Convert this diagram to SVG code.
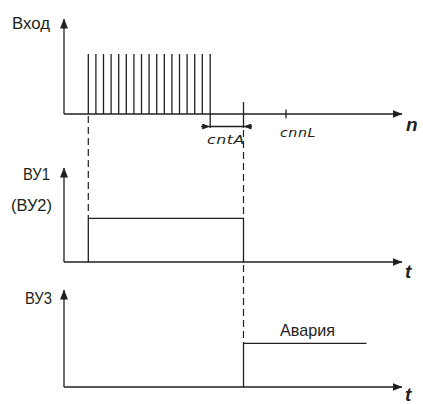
<svg xmlns="http://www.w3.org/2000/svg" width="423" height="404" viewBox="0 0 423 404">
<style>
.ln{stroke:#231f20;stroke-width:1.3;fill:none}
.dash{stroke:#231f20;stroke-width:1.2;fill:none;stroke-dasharray:7 4}
.lbl{font-family:"Liberation Sans",Arial,sans-serif;font-size:17px;fill:#231f20}
.ax{font-family:"Liberation Sans",Arial,sans-serif;font-size:19px;font-weight:bold;font-style:italic;fill:#231f20}
.seg{font-family:"DejaVu Sans","Liberation Sans",sans-serif;font-size:13px;font-style:italic;fill:#231f20;letter-spacing:0.5px}
</style>
<defs>
<marker id="arr" viewBox="0 0 10 8" refX="9.5" refY="4" markerWidth="10" markerHeight="8" markerUnits="userSpaceOnUse" orient="auto">
<path d="M0,0 L10,4 L0,8 Z" fill="#231f20"/>
</marker>
<marker id="sm" viewBox="0 0 8 6" refX="8" refY="3" markerWidth="8" markerHeight="6" markerUnits="userSpaceOnUse" orient="auto">
<path d="M0,0 L8,3 L0,6 Z" fill="#231f20"/>
</marker>
</defs>

<g id="graph-input">
<line class="ln" x1="64" y1="114" x2="64" y2="19" marker-end="url(#arr)"/>
<line class="ln" x1="64" y1="114" x2="402" y2="114" marker-end="url(#arr)"/>
<text class="lbl" x="12" y="29" textLength="38" lengthAdjust="spacingAndGlyphs">Вход</text>
<text class="ax" x="406" y="131">n</text>
<g id="pulses">
<line class="ln" x1="88.3" y1="54" x2="88.3" y2="114"/>
<line class="ln" x1="95.9" y1="54" x2="95.9" y2="114"/>
<line class="ln" x1="103.5" y1="54" x2="103.5" y2="114"/>
<line class="ln" x1="111.1" y1="54" x2="111.1" y2="114"/>
<line class="ln" x1="118.7" y1="54" x2="118.7" y2="114"/>
<line class="ln" x1="126.3" y1="54" x2="126.3" y2="114"/>
<line class="ln" x1="133.9" y1="54" x2="133.9" y2="114"/>
<line class="ln" x1="141.5" y1="54" x2="141.5" y2="114"/>
<line class="ln" x1="149.1" y1="54" x2="149.1" y2="114"/>
<line class="ln" x1="156.7" y1="54" x2="156.7" y2="114"/>
<line class="ln" x1="164.3" y1="54" x2="164.3" y2="114"/>
<line class="ln" x1="171.9" y1="54" x2="171.9" y2="114"/>
<line class="ln" x1="179.5" y1="54" x2="179.5" y2="114"/>
<line class="ln" x1="187.1" y1="54" x2="187.1" y2="114"/>
<line class="ln" x1="194.7" y1="54" x2="194.7" y2="114"/>
<line class="ln" x1="202.3" y1="54" x2="202.3" y2="114"/>
<line class="ln" x1="210.2" y1="54" x2="210.2" y2="128"/>
</g>
<line class="ln" x1="286" y1="109.5" x2="286" y2="118.5"/>
<line class="ln" x1="243.5" y1="102" x2="243.5" y2="128"/>
<line class="ln" x1="201" y1="126.5" x2="210.2" y2="126.5" marker-end="url(#sm)"/>
<line class="ln" x1="210.2" y1="126.5" x2="243.5" y2="126.5"/>
<line class="ln" x1="252" y1="126.5" x2="243.5" y2="126.5" marker-end="url(#sm)"/>
<text class="seg" x="207" y="144" textLength="38" lengthAdjust="spacingAndGlyphs">cntA</text>
<text class="seg" x="280" y="137" textLength="36" lengthAdjust="spacingAndGlyphs">cnnL</text>
</g>

<g id="connectors">
<line class="dash" x1="88.3" y1="116" x2="88.3" y2="218"/>
<line class="dash" x1="243.5" y1="130" x2="243.5" y2="218"/>
<line class="dash" x1="243.5" y1="265" x2="243.5" y2="343"/>
</g>

<g id="graph-vu1">
<line class="ln" x1="64" y1="262" x2="64" y2="168" marker-end="url(#arr)"/>
<line class="ln" x1="64" y1="262" x2="402" y2="262" marker-end="url(#arr)"/>
<polyline class="ln" points="88.3,262 88.3,218.3 243.5,218.3 243.5,262"/>
<text class="lbl" x="23" y="180" textLength="27" lengthAdjust="spacingAndGlyphs">ВУ1</text>
<text class="lbl" x="11" y="211" textLength="41" lengthAdjust="spacingAndGlyphs">(ВУ2)</text>
<text class="ax" x="405" y="278">t</text>
</g>

<g id="graph-vu3">
<line class="ln" x1="64" y1="387" x2="64" y2="290" marker-end="url(#arr)"/>
<line class="ln" x1="64" y1="387" x2="402" y2="387" marker-end="url(#arr)"/>
<polyline class="ln" points="243.5,387 243.5,343.3 366.5,343.3"/>
<text class="lbl" x="25" y="303.5" textLength="27" lengthAdjust="spacingAndGlyphs">ВУ3</text>
<text class="lbl" x="280" y="335.5" textLength="55" lengthAdjust="spacingAndGlyphs">Авария</text>
<text class="ax" x="405" y="401">t</text>
</g>
</svg>
